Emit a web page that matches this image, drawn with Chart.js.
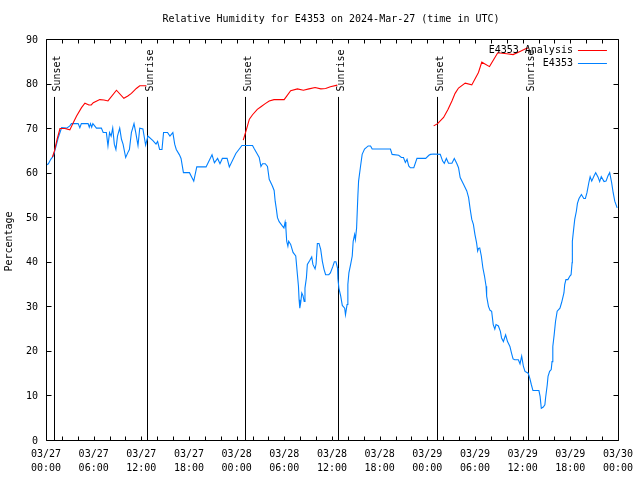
<!DOCTYPE html>
<html>
<head>
<meta charset="utf-8">
<script src="https://cdn.jsdelivr.net/npm/chart.js@4/dist/chart.umd.min.js"></script>
<style>
html,body{margin:0;padding:0;background:#fff;}
#wrap{width:640px;height:480px;}
</style>
</head>
<body>
<div id="wrap"><canvas id="c" width="640" height="480"></canvas></div>
<script>
// ---- Data (hours since 2024-03-27 00:00 UTC) ----
const obsHours = [0.1,0.3,0.6,0.92,1.2,1.55,1.97,2.6,3.0,3.2,4.05,4.26,4.45,5.3,5.45,5.6,5.75,5.9,6.35,6.97,7.2,7.6,7.8,8.0,8.2,8.4,8.6,8.8,9.0,9.28,9.5,9.7,10.03,10.3,10.5,10.75,11.08,11.3,11.58,11.8,12.2,12.54,12.83,13.46,13.85,14.05,14.3,14.6,14.8,15.3,15.6,15.97,16.2,16.4,16.8,17.0,17.3,18.06,18.6,18.98,20.15,20.9,21.2,21.6,21.9,22.2,22.8,23.08,23.9,24.67,26.0,26.2,26.63,26.84,27.06,27.26,27.6,27.88,28.1,28.5,28.72,28.85,29.0,29.14,29.35,29.77,29.95,30.1,30.2,30.3,30.45,30.55,30.8,31.1,31.44,31.65,31.78,31.86,31.95,32.07,32.2,32.35,32.5,32.6,32.78,32.9,33.2,33.45,33.6,33.87,34.0,34.16,34.37,34.58,34.79,35.0,35.2,35.6,35.8,36.1,36.3,36.5,36.7,36.75,36.87,37.1,37.3,37.6,37.7,37.9,38.0,38.13,38.35,38.55,38.67,38.85,38.95,39.1,39.26,39.35,39.6,39.8,40.1,40.56,40.86,41.06,43.36,43.57,44.4,44.74,45.0,45.24,45.45,45.66,45.87,46.3,46.7,47.8,48.2,48.4,48.8,49.63,49.93,50.14,50.4,50.67,51.1,51.4,51.7,51.93,52.14,52.56,52.97,53.2,53.4,53.6,53.8,54.0,54.2,54.34,54.45,54.6,54.8,55.0,55.2,55.4,55.47,55.7,55.9,56.1,56.3,56.5,56.65,56.95,57.2,57.35,57.58,57.86,58.1,58.4,58.6,58.8,59.0,59.46,59.67,59.88,60.1,60.3,60.7,60.9,61.1,61.3,62.05,62.2,62.35,62.6,62.8,62.9,63.1,63.2,63.4,63.6,63.7,63.8,63.97,64.14,64.35,64.7,64.9,65.0,65.2,65.3,65.45,65.7,65.95,66.1,66.23,66.26,66.44,66.56,66.77,66.9,67.1,67.4,67.7,67.9,68.1,68.35,68.5,68.7,69.0,69.2,69.5,69.7,69.9,70.25,70.5,70.75,70.96,71.2,71.4,71.6,71.9];
const obsValues = [61.8,62.0,63.0,63.75,65.5,67.9,70.1,70.0,70.5,71.0,71.0,70.1,71.0,71.0,70.2,71.0,70.2,71.0,70.0,70.0,69.0,69.0,66.0,69.0,68.2,70.0,66.4,65.2,68.2,70.0,67.5,66.4,63.4,64.5,65.2,69.0,71.0,69.0,66.1,70.0,69.8,66.2,68.2,67.2,66.4,67.0,65.2,65.2,69.0,69.0,68.2,69.0,66.4,65.2,64.0,63.2,60.0,60.0,58.1,61.3,61.3,64.0,62.2,63.2,62.0,63.2,63.2,61.3,64.3,66.1,66.1,65.4,64.1,63.4,61.4,62.0,62.0,61.4,58.5,57.0,56.0,53.6,51.8,49.9,49.0,48.0,47.6,48.9,47.5,44.6,43.5,44.6,43.9,42.1,41.3,37.1,34.5,31.5,29.6,30.9,33.0,32.4,31.1,34.1,36.4,39.4,40.3,41.1,39.4,38.4,39.5,44.1,44.1,42.8,40.1,38.3,37.1,37.1,37.5,38.9,40.0,40.0,38.6,36.2,34.1,32.3,30.2,29.6,28.1,30.4,34.9,37.5,39.4,41.3,44.6,46.1,45.0,47.6,54.8,58.1,61.5,64.1,65.3,66.0,66.0,65.3,65.3,64.1,63.9,63.4,63.4,62.3,63.0,61.5,61.1,61.1,63.2,63.2,63.9,64.1,64.2,64.1,62.6,62.1,63.2,62.1,62.1,63.2,62.1,61.1,58.9,57.4,55.9,54.4,51.8,49.5,48.4,46.1,44.3,42.4,43.0,43.1,41.3,38.6,36.8,34.5,32.3,30.0,29.1,28.9,25.9,24.9,25.9,25.6,24.4,22.9,22.1,23.6,22.1,21.0,19.5,18.2,18.0,18.0,17.1,18.8,16.5,15.4,15.0,13.9,12.4,11.1,11.1,9.8,7.1,7.4,7.9,9.6,12.4,14.3,15.4,15.8,17.6,21.0,23.6,26.6,28.9,29.6,30.8,31.5,33.0,34.9,36.0,36.0,36.8,37.1,39.8,44.6,47.6,49.5,51.4,53.1,54.2,55.1,54.2,54.2,55.5,57.9,59.1,58.1,59.3,60.0,59.0,58.0,59.1,58.0,58.1,59.3,60.0,57.8,55.5,53.6,52.1];

const anaHours = [0.8,1.07,1.4,1.76,2.38,3.0,3.43,3.85,4.47,4.9,5.4,5.7,5.95,6.77,7.3,7.8,8.87,9.8,10.3,10.75,11.37,11.8,12.63,18,24.83,25.2,25.6,26.0,26.6,27.06,27.6,28.1,28.7,29.98,30.8,31.65,32.4,33.1,33.87,34.6,35.2,35.8,36.67,42,48.8,49.3,49.84,50.05,50.6,51.1,51.5,51.93,52.77,53.6,54.44,54.86,55.83,56.87,58.0,58.8,59.67,60.5,60.7];
const anaValues = [63.5,64.9,67.5,69.9,69.9,69.6,71.2,72.7,74.6,75.6,75.2,75.2,75.7,76.4,76.3,76.1,78.5,76.7,77.2,77.8,78.9,79.5,79.5,null,67.3,69.5,72.0,73.0,74.2,74.8,75.5,76.1,76.4,76.4,78.4,78.8,78.5,78.8,79.1,78.8,78.9,79.3,79.65,null,70.5,71.0,72.0,72.4,74.2,76.1,77.8,79.0,80.1,79.7,82.5,84.8,83.8,86.9,86.7,86.5,87.2,87.9,88.0];

const sunHours = [1.03, 12.72, 25.08, 36.78, 49.2, 60.72];
const sunLabels = ['Sunset','Sunrise','Sunset','Sunrise','Sunset','Sunrise'];

const xTickDates = ['03/27','03/27','03/27','03/27','03/28','03/28','03/28','03/28','03/29','03/29','03/29','03/29','03/30'];
const xTickTimes = ['00:00','06:00','12:00','18:00','00:00','06:00','12:00','18:00','00:00','06:00','12:00','18:00','00:00'];

const seriesNames = ['E4353 Analysis','E4353'];
const seriesColors = ['#ff0000','#0080ff'];
const titleText = 'Relative Humidity for E4353 on 2024-Mar-27 (time in UTC)';
const yTitle = 'Percentage';

// ---- Chart ----
const FONT = '"DejaVu Sans Mono", "Liberation Mono", monospace';

function toPts(hs, vs){ return hs.map((h,i)=>({x:h, y:vs[i]})); }

const decor = {
  id:'decor',
  beforeDatasetsDraw(chart){
    const {ctx, chartArea:a, scales:{x,y}} = chart;
    ctx.save();
    ctx.strokeStyle = '#000';
    ctx.lineWidth = 1;
    ctx.fillStyle = '#000';
    ctx.font = '10px ' + FONT;
    sunHours.forEach((h,i)=>{
      const px = Math.round(x.getPixelForValue(h)) + 0.5;
      ctx.beginPath();
      ctx.moveTo(px, y.getPixelForValue(0));
      ctx.lineTo(px, y.getPixelForValue(77));
      ctx.stroke();
      ctx.save();
      ctx.translate(px + 5.5, y.getPixelForValue(78.2));
      ctx.rotate(-Math.PI/2);
      ctx.textAlign = 'left';
      ctx.textBaseline = 'alphabetic';
      ctx.fillText(sunLabels[i], 0, 0);
      ctx.restore();
    });
    ctx.restore();
  },
  afterDraw(chart){
    const {ctx, chartArea:a, scales:{x,y}} = chart;
    ctx.save();
    ctx.strokeStyle = '#000';
    ctx.lineWidth = 1;
    const L = Math.round(a.left)+0.5, R = Math.round(a.right)+0.5, T = Math.round(a.top)+0.5, B = Math.round(a.bottom)+0.5;
    ctx.beginPath();
    ctx.rect(L, T, R-L, B-T);
    ctx.stroke();
    // ticks
    ctx.beginPath();
    for (let h=0; h<=72; h+=2){
      const px = Math.round(x.getPixelForValue(h))+0.5;
      ctx.moveTo(px, B); ctx.lineTo(px, B-4);
      ctx.moveTo(px, T); ctx.lineTo(px, T+4);
    }
    for (let v=0; v<=90; v+=10){
      const py = Math.round(y.getPixelForValue(v))+0.5;
      ctx.moveTo(L, py); ctx.lineTo(L+5, py);
      ctx.moveTo(R, py); ctx.lineTo(R-5, py);
    }
    ctx.stroke();
    // title
    ctx.fillStyle = '#000';
    ctx.font = '10px ' + FONT;
    ctx.textAlign = 'center';
    ctx.textBaseline = 'middle';
    ctx.fillText(titleText, (a.left+a.right)/2 - 1, 19);
    // y title
    ctx.save();
    ctx.translate(12, (a.top+a.bottom)/2 + 2);
    ctx.rotate(-Math.PI/2);
    ctx.textAlign = 'center';
    ctx.textBaseline = 'alphabetic';
    ctx.fillText(yTitle, 0, 0);
    ctx.restore();
    // legend
    const lx2 = a.right - 11, lx1 = a.right - 40, tx = a.right - 45;
    seriesNames.forEach((n,i)=>{
      const ly = a.top + 10.5 + i*13;
      ctx.textAlign = 'right';
      ctx.textBaseline = 'middle';
      ctx.fillStyle = '#000';
      ctx.fillText(n, tx, ly + 0.5);
      ctx.strokeStyle = seriesColors[i];
      ctx.beginPath();
      ctx.moveTo(lx1, Math.round(ly)+0.5);
      ctx.lineTo(lx2, Math.round(ly)+0.5);
      ctx.stroke();
    });
    ctx.restore();
  }
};

new Chart(document.getElementById('c'), {
  type:'line',
  data:{
    datasets:[
      {label:seriesNames[0], data:toPts(anaHours, anaValues), borderColor:seriesColors[0], borderWidth:1.1, pointRadius:0, tension:0, spanGaps:false, fill:false},
      {label:seriesNames[1], data:toPts(obsHours, obsValues), borderColor:seriesColors[1], borderWidth:1.1, pointRadius:0, tension:0, spanGaps:false, fill:false}
    ]
  },
  options:{
    responsive:false,
    animation:false,
    devicePixelRatio:1,
    layout:{padding:{top:39, right:19, left:0, bottom:0}},
    plugins:{legend:{display:false}, title:{display:false}, tooltip:{enabled:false}},
    scales:{
      x:{
        type:'linear', min:0, max:72,
        afterFit(s){ s.height = 40; },
        grid:{display:false, drawTicks:false},
        border:{display:false},
        ticks:{
          stepSize:2, autoSkip:false, maxRotation:0, minRotation:0, padding:7,
          color:'#000', font:{family:FONT, size:10, lineHeight:1.4},
          callback(v){ if (v % 6 !== 0) return ''; const k = v/6; return [xTickDates[k], xTickTimes[k]]; }
        }
      },
      y:{
        min:0, max:90,
        afterFit(s){ s.width = 46; },
        grid:{display:false, drawTicks:false},
        border:{display:false},
        ticks:{stepSize:10, padding:8, labelOffset:1, color:'#000', font:{family:FONT, size:10}}
      }
    }
  },
  plugins:[decor]
});
</script>
</body>
</html>
